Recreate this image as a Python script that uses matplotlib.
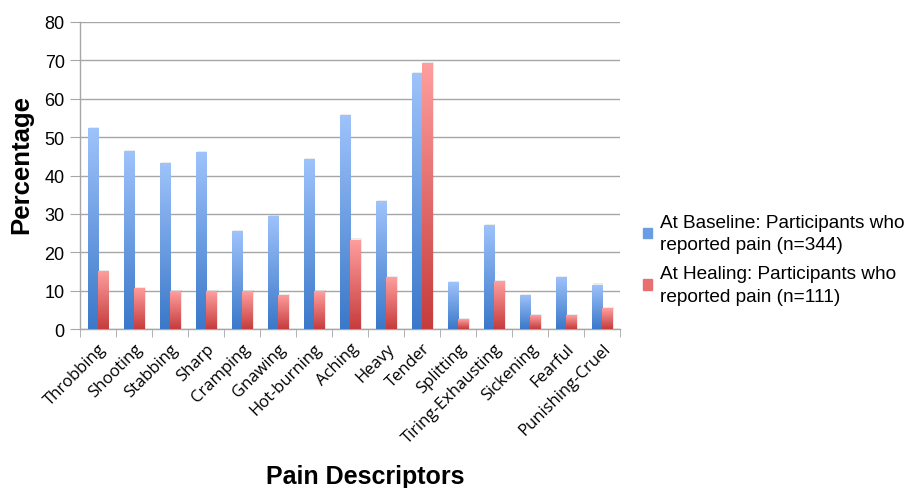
import numpy as np
import matplotlib

matplotlib.use("Agg")
import matplotlib.pyplot as plt
import matplotlib.transforms as mtransforms
from matplotlib.colors import LinearSegmentedColormap
from matplotlib.patches import Rectangle

# ---------------------------------------------------------------------------
# Data (% of participants reporting each descriptor)
# ---------------------------------------------------------------------------

descriptors = [
    "Throbbing", "Shooting", "Stabbing", "Sharp", "Cramping", "Gnawing",
    "Hot-burning", "Aching", "Heavy", "Tender", "Splitting",
    "Tiring-Exhausting", "Sickening", "Fearful", "Punishing-Cruel",
]
baseline = [52.3, 46.4, 43.3, 46.2, 25.5, 29.5, 44.3, 55.7, 33.3, 66.8,
            12.2, 27.2, 8.9, 13.6, 11.6]
healing = [15.2, 10.7, 9.8, 9.8, 9.8, 8.9, 9.8, 23.3, 13.5, 69.4,
           2.6, 12.5, 3.6, 3.6, 5.4]

baseline_label = "At Baseline: Participants who\nreported pain (n=344)"
healing_label = "At Healing: Participants who\nreported pain (n=111)"

# bottom -> top colour ramps for the gradient bars
blue_cmap = LinearSegmentedColormap.from_list("blue", ["#3a78c9", "#9fc3fb"])
red_cmap = LinearSegmentedColormap.from_list("red", ["#c63c3c", "#ff9f9f"])

SANS = ["Liberation Sans", "DejaVu Sans"]
TICK_FONT = ["Open Sans", "DejaVu Sans"]

plt.rcParams.update({"font.family": SANS})

fig = plt.figure(figsize=(9.19, 4.89), dpi=100)
ax = fig.add_axes([0.087, 0.325, 0.588, 0.628])

x = np.arange(len(descriptors))
width = 0.29
ymax = 80

grad = np.linspace(0, 1, 256).reshape(-1, 1)


def gradient_bars(xs, heights, cmap):
    bars = ax.bar(xs, heights, width, color="none", edgecolor="none", zorder=3)
    for b in bars:
        x0, w, h = b.get_x(), b.get_width(), b.get_height()
        # soft drop shadow
        ax.add_patch(Rectangle((x0 + 0.03, 0), w, h + 0.3, color="#000000",
                               alpha=0.08, lw=0, zorder=2))
        im = ax.imshow(grad, cmap=cmap, origin="lower", aspect="auto",
                       extent=(x0, x0 + w, 0, h), zorder=3)
        im.set_clip_path(b)
    return bars


gradient_bars(x - width / 2, baseline, blue_cmap)
gradient_bars(x + width / 2, healing, red_cmap)

ax.set_xlim(-0.5, len(descriptors) - 0.5)
ax.set_ylim(0, ymax)
ax.set_yticks(np.arange(0, ymax + 1, 10))
ax.yaxis.grid(True, color="#a6a6a6", lw=1.0, zorder=0)
ax.set_axisbelow(True)

for s in ["top", "right"]:
    ax.spines[s].set_visible(False)
for s in ["left", "bottom"]:
    ax.spines[s].set_color("#a6a6a6")
    ax.spines[s].set_linewidth(1.0)

# category boundary ticks, labels centred on each pair
ax.set_xticks(np.arange(-0.5, len(descriptors), 1.0), minor=True)
ax.set_xticks(x)
ax.set_xticklabels(descriptors, rotation=45, ha="right",
                   rotation_mode="anchor", fontsize=12, family=TICK_FONT)
shift = mtransforms.ScaledTranslation(-5 / 100, -6 / 100, fig.dpi_scale_trans)
for lbl in ax.get_xticklabels():
    lbl.set_transform(lbl.get_transform() + shift)
ax.tick_params(axis="x", which="major", length=0, pad=8)
ax.tick_params(axis="x", which="minor", length=6, color="#a6a6a6")
ax.tick_params(axis="y", length=7, color="#a6a6a6", labelsize=13, pad=4)

ax.set_ylabel("Percentage", fontsize=18.5, fontweight="bold")
ax.yaxis.set_label_coords(-0.087, 0.54)
ax.set_xlabel("Pain Descriptors", fontsize=18, fontweight="bold")
ax.xaxis.set_label_coords(0.528, -0.44)

handles = [
    Rectangle((0, 0), 1, 1, color="#6a9de2"),
    Rectangle((0, 0), 1, 1, color="#e87070"),
]
leg = fig.legend(handles, [baseline_label, healing_label], loc="center left",
                 bbox_to_anchor=(0.700, 0.468), frameon=False, fontsize=13.7,
                 handlelength=0.45, handleheight=0.45, handletextpad=0.45,
                 labelspacing=0.6, borderpad=0, borderaxespad=0)
for t in leg.get_texts():
    t.set_linespacing(1.45)

fig.savefig("out.png", dpi=100)
